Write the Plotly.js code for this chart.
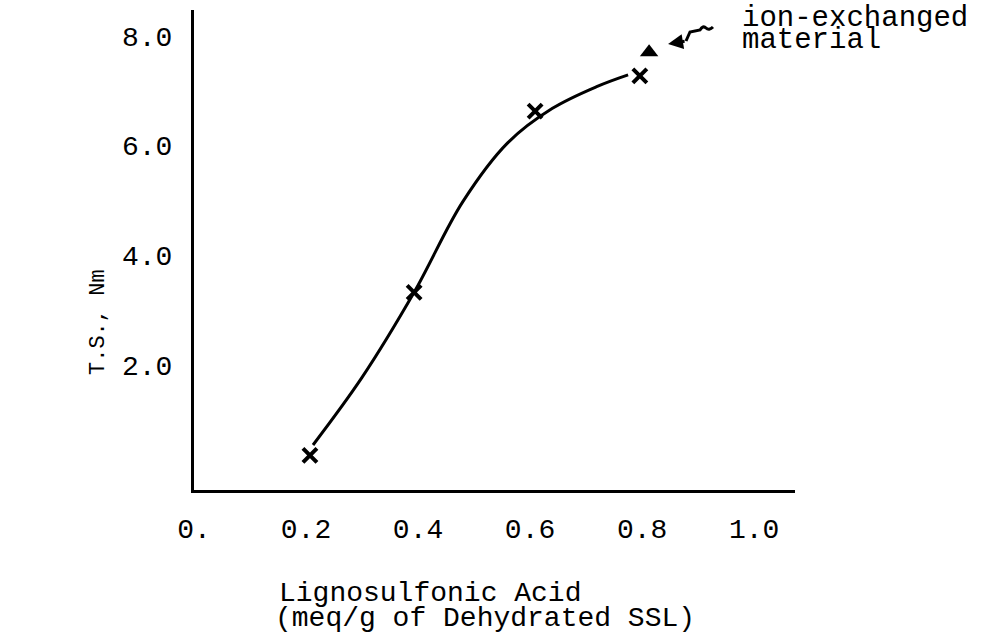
<!DOCTYPE html>
<html>
<head>
<meta charset="utf-8">
<script src="https://cdn.plot.ly/plotly-3.0.1.min.js"></script>
<style>html,body{margin:0;padding:0;background:#fff;}#chart{width:995px;height:643px;}</style>
</head>
<body>
<div id="chart"></div>
<script>
// Measured points (x marks)
const lignoX = [0.207, 0.393, 0.609, 0.796];
const tsY = [0.36, 3.33, 6.63, 7.27];
// Ion-exchanged material (triangle)
const ionX = [0.8125];
const ionY = [7.70];
// Hand-drawn fitted curve
const curveX = [0.2125, 0.30, 0.393, 0.48, 0.56, 0.64, 0.72, 0.775];
const curveY = [0.55, 1.78, 3.33, 4.98, 6.05, 6.68, 7.08, 7.29];
// Tick labels
const xTickVals = [0, 0.2, 0.4, 0.6, 0.8, 1.0];
const xTickText = ["0.", "0.2", "0.4", "0.6", "0.8", "1.0"];
const yTickVals = [2, 4, 6, 8];
const yTickText = ["2.0", "4.0", "6.0", "8.0"];

const FONT = "Liberation Mono, DejaVu Sans Mono, monospace";

// pixel -> paper helpers for decoration (plot area 194..795 x 10..490)
const px = p => (p - 194) / 601;
const py = p => (490 - p) / 480;

const traces = [
  {x: curveX, y: curveY, mode: "lines", type: "scatter",
   line: {color: "#000", width: 3, shape: "spline", smoothing: 1}, hoverinfo: "skip"},
  {x: lignoX, y: tsY, mode: "markers", type: "scatter",
   marker: {symbol: "x-thin", size: 14, color: "#000", line: {color: "#000", width: 4}}},
  {x: ionX, y: ionY, mode: "markers", type: "scatter",
   marker: {symbol: "triangle-up", size: 16, color: "#000"}}
];

const squiggle = "M " + px(686) + " " + py(41) +
  " L " + px(690) + " " + py(32) +
  " L " + px(700) + " " + py(30) +
  " Q " + px(703) + " " + py(25) + " " + px(706) + " " + py(28) +
  " Q " + px(709) + " " + py(31) + " " + px(713) + " " + py(27);

const layout = {
  width: 995, height: 643,
  margin: {l: 194, r: 200, t: 10, b: 153, pad: 0},
  paper_bgcolor: "#fff", plot_bgcolor: "#fff",
  showlegend: false,
  font: {family: FONT, size: 28, color: "#000"},
  xaxis: {
    range: [0, 1.073], showgrid: false, zeroline: false,
    showline: true, linecolor: "#000", linewidth: 3,
    tickvals: xTickVals, ticktext: xTickText, ticks: "",
    ticklabelstandoff: 11,
    tickfont: {family: FONT, size: 28, color: "#000"}
  },
  yaxis: {
    range: [-0.27, 8.47], showgrid: false, zeroline: false,
    showline: true, linecolor: "#000", linewidth: 3,
    tickvals: yTickVals, ticktext: yTickText, ticks: "",
    ticklabelstandoff: 13,
    tickfont: {family: FONT, size: 28, color: "#000"}
  },
  shapes: [
    {type: "path", xref: "paper", yref: "paper", path: squiggle,
     line: {color: "#000", width: 3}}
  ],
  annotations: [
    {x: 0.8464, y: 7.85, xref: "x", yref: "y", text: "", showarrow: true,
     arrowhead: 2, arrowsize: 1, arrowwidth: 3, arrowcolor: "#000",
     ax: 18, ay: -3, standoff: 0},
    {xref: "paper", yref: "paper", x: px(740), y: py(18), xanchor: "left", yanchor: "middle",
     text: "ion-exchanged", showarrow: false, font: {family: FONT, size: 29, color: "#000"}},
    {xref: "paper", yref: "paper", x: px(740), y: py(40), xanchor: "left", yanchor: "middle",
     text: "material", showarrow: false, font: {family: FONT, size: 29, color: "#000"}},
    {xref: "paper", yref: "paper", x: px(277), y: py(593), xanchor: "left", yanchor: "middle",
     text: "Lignosulfonic Acid", showarrow: false, font: {family: FONT, size: 28, color: "#000"}},
    {xref: "paper", yref: "paper", x: px(273), y: py(618), xanchor: "left", yanchor: "middle",
     text: "(meq/g of Dehydrated SSL)", showarrow: false, font: {family: FONT, size: 28, color: "#000"}},
    {xref: "paper", yref: "paper", x: px(98), y: py(322), xanchor: "center", yanchor: "middle",
     text: "T.S., Nm", textangle: -90, showarrow: false, font: {family: FONT, size: 22, color: "#000"}}
  ]
};

Plotly.newPlot("chart", traces, layout, {displayModeBar: false, staticPlot: true});
</script>
</body>
</html>
